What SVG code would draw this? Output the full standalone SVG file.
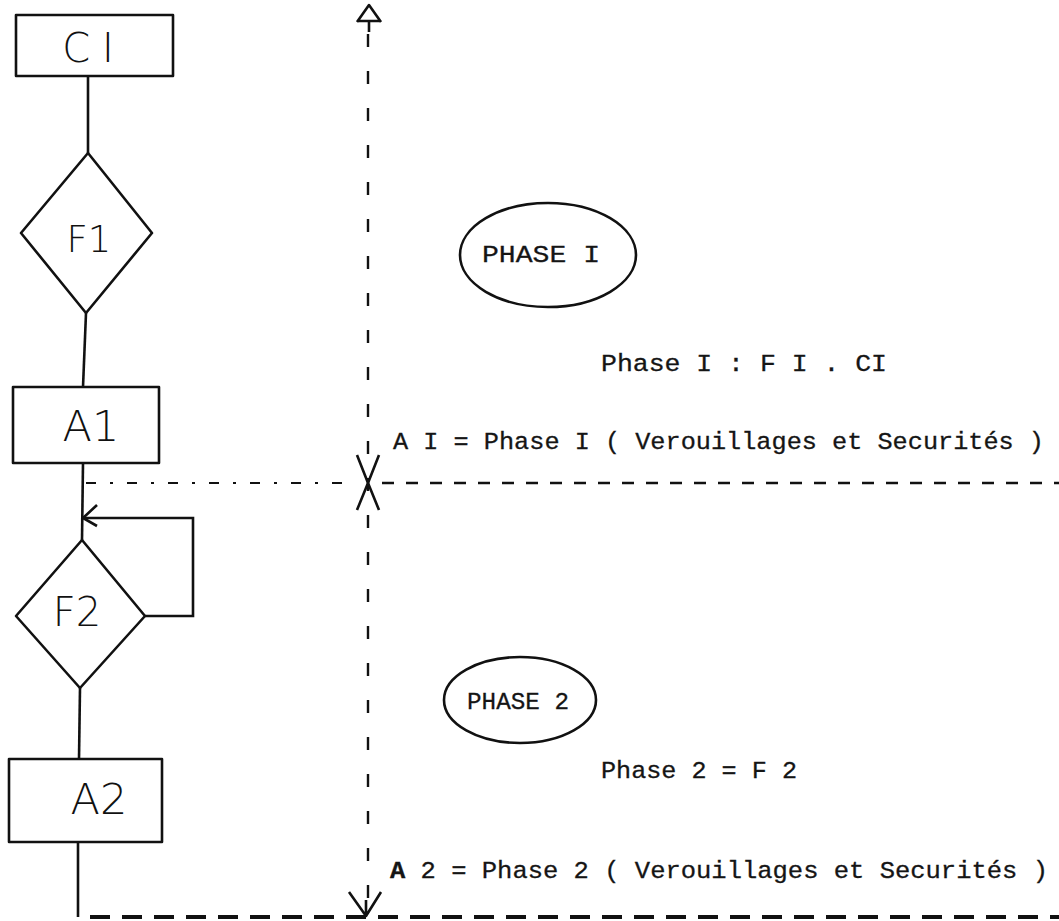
<svg xmlns="http://www.w3.org/2000/svg" width="1059" height="921" viewBox="0 0 1059 921">
<style>
.n{fill:none;stroke:#111;stroke-width:2.6;stroke-linejoin:round}
.c{fill:none;stroke:#111;stroke-width:2.6}
.hand{font-family:"DejaVu Sans","Liberation Sans",sans-serif;fill:#111;text-anchor:middle;font-weight:300}
.tw{font-family:"Liberation Mono","DejaVu Sans Mono",monospace;fill:#151515;font-size:24.5px;stroke:#151515;stroke-width:0.3}
.vd{fill:none;stroke:#111;stroke-width:2.4;stroke-dasharray:13 24}
.hd{fill:none;stroke:#111;stroke-width:2.4;stroke-dasharray:12 12}
.hdl{fill:none;stroke:#111;stroke-width:2;stroke-dasharray:10 14 3 14}
.bd{fill:none;stroke:#111;stroke-width:4;stroke-dasharray:20 12}
</style>
<rect width="1059" height="921" fill="#fff"/>

<g id="connectors">
<path class="c" d="M88 76 V153"/>
<path class="c" d="M86 313 L83 387"/>
<path class="c" d="M83 463 L82 540"/>
<path class="c" d="M145 616 H193 V518 H83"/>
<path class="c" d="M97 505 L83 518 L97 526"/>
<path class="c" d="M80 688 L79 759"/>
<path class="c" d="M78 842 V917"/>
</g>

<g id="axes">
<path class="vd" d="M368 34 V905"/>
<path class="n" d="M357 22 L369 5 L381 22 M357 21 H381 M369 21 V32"/>
<path class="n" d="M357 455 L368 483 L357 510 M379 455 L368 483 L379 510"/>
<path class="n" d="M349 892 L366 916 L381 892 M366 916 V900"/>
<path class="hdl" d="M86 483 H355"/>
<path class="hd" d="M382 483 H1059"/>
<path class="bd" d="M90 917 H1059"/>
</g>

<g id="CI">
<rect class="n" x="16" y="15" width="157" height="61"/>
<text class="hand" x="94" y="62" font-size="40" letter-spacing="12">CI</text>
</g>
<g id="F1">
<path class="n" d="M88 153 L152 233 L86 313 L21 233 Z"/>
<text class="hand" x="89" y="252" font-size="37">F1</text>
</g>
<g id="A1">
<rect class="n" x="13" y="387" width="146" height="76"/>
<text class="hand" x="91" y="441" font-size="43">A1</text>
</g>
<g id="F2">
<path class="n" d="M82 540 L145 616 L80 688 L16 616 Z"/>
<text class="hand" x="77" y="626" font-size="40">F2</text>
</g>
<g id="A2">
<rect class="n" x="9" y="759" width="153" height="83"/>
<text class="hand" x="99" y="814" font-size="43">A2</text>
</g>

<g id="phase1">
<ellipse class="n" cx="548" cy="255" rx="88" ry="52"/>
<text class="tw" x="482" y="262" textLength="118" lengthAdjust="spacingAndGlyphs">PHASE  I</text>
</g>
<g id="phase2">
<ellipse class="n" cx="520" cy="700" rx="76" ry="43"/>
<text class="tw" x="467" y="709" textLength="102" lengthAdjust="spacingAndGlyphs">PHASE 2</text>
</g>

<g id="labels">
<text class="tw" x="601" y="371" textLength="286" lengthAdjust="spacingAndGlyphs">Phase I : F I . CI</text>
<text class="tw" x="393" y="449" textLength="651" lengthAdjust="spacingAndGlyphs">A I =  Phase I ( Verouillages et Securités )</text>
<text class="tw" x="601" y="778" textLength="196" lengthAdjust="spacingAndGlyphs">Phase 2 = F 2</text>
<text class="tw" x="390" y="878" textLength="658" lengthAdjust="spacingAndGlyphs"><tspan font-weight="bold">A</tspan> 2 =  Phase 2 ( Verouillages et Securités )</text>
</g>
</svg>
